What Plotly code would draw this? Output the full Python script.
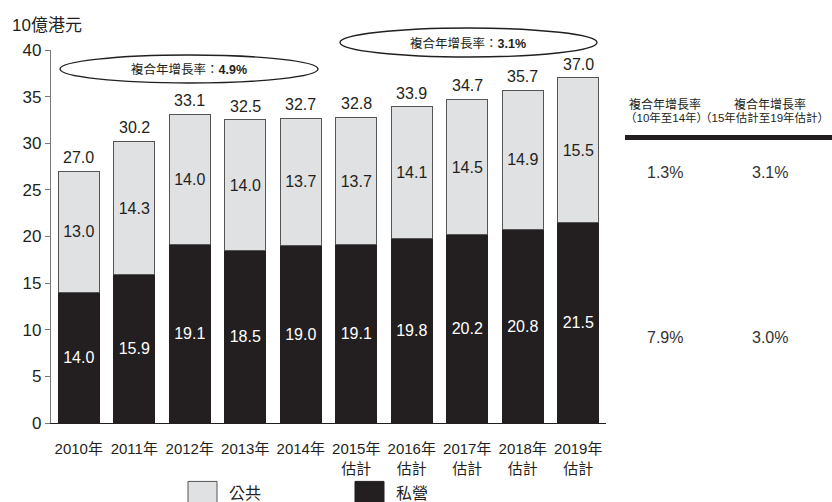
import plotly.graph_objects as go

# ---- data ----
categories = ["2010年", "2011年", "2012年", "2013年", "2014年",
              "2015年<br>估計", "2016年<br>估計", "2017年<br>估計", "2018年<br>估計", "2019年<br>估計"]
private_vals = [14.0, 15.9, 19.1, 18.5, 19.0, 19.1, 19.8, 20.2, 20.8, 21.5]
public_vals = [13.0, 14.3, 14.0, 14.0, 13.7, 13.7, 14.1, 14.5, 14.9, 15.5]
total_vals = [27.0, 30.2, 33.1, 32.5, 32.7, 32.8, 33.9, 34.7, 35.7, 37.0]
y_ticks = [0, 5, 10, 15, 20, 25, 30, 35, 40]
cagr_bubbles = ["4.9%", "3.1%"]
table_head_line1 = ["複合年增長率", "複合年增長率"]
table_head_line2 = ["（10年至14年）", "（15年估計至19年估計）"]
table_row1 = ["1.3%", "3.1%"]
table_row2 = ["7.9%", "3.0%"]
legend_names = ["公共", "私營"]

# ---- style ----
FONT = "Arial, 'Liberation Sans', 'Noto Sans CJK TC', sans-serif"
DARK = "#231f20"
LIGHT = "#e0e1e3"
W_PX, H_PX = 832, 502
L, R, T, B = 51, 606, 50, 423.5
PW, PH = R - L, B - T


def px(x):
    return (x - L) / PW


def py(y):
    return (B - y) / PH


xs = list(range(len(categories)))

fig = go.Figure()
fig.add_trace(go.Bar(
    x=xs, y=private_vals, name=legend_names[1],
    marker=dict(color=DARK, line=dict(color=DARK, width=1)),
    text=[f"{v:.1f}" for v in private_vals], textposition="inside",
    insidetextanchor="middle", textangle=0,
    insidetextfont=dict(color="white", size=16, family=FONT),
    showlegend=False,
))
fig.add_trace(go.Bar(
    x=xs, y=public_vals, name=legend_names[0],
    marker=dict(color=LIGHT, line=dict(color="#555555", width=1)),
    text=[f"{v:.1f}" for v in public_vals], textposition="inside",
    insidetextanchor="middle", textangle=0,
    insidetextfont=dict(color=DARK, size=16, family=FONT),
    showlegend=False,
))

annotations = []
# totals above bars
for x, t in zip(xs, total_vals):
    annotations.append(dict(x=x, y=t, xref="x", yref="y", text=f"{t:.1f}",
                            showarrow=False, yanchor="bottom", yshift=3,
                            font=dict(size=16, color=DARK, family=FONT)))

# y-axis title
annotations.append(dict(x=px(10), y=py(25), xref="paper", yref="paper", text="10億港元",
                        showarrow=False, xanchor="left", yanchor="middle",
                        font=dict(size=17, color=DARK, family=FONT)))

shapes = []
# CAGR ellipses
ell = [((60, 55, 318, 83), (189, 69.5)), ((340, 28, 597, 57), (468, 43))]
for ((x0, y0, x1, y1), (cx, cy)), val in zip(ell, cagr_bubbles):
    shapes.append(dict(type="circle", xref="paper", yref="paper",
                       x0=px(x0), x1=px(x1), y0=py(y1), y1=py(y0),
                       line=dict(color=DARK, width=1.4), fillcolor="rgba(0,0,0,0)"))
    annotations.append(dict(x=px(cx), y=py(cy), xref="paper", yref="paper",
                            text=f"複合年增長率：<b>{val}</b>", showarrow=False,
                            xanchor="center", yanchor="middle",
                            font=dict(size=12.5, color=DARK, family=FONT)))

# right-hand table
col_x = [665, 770]
for cx, h in zip(col_x, table_head_line1):
    annotations.append(dict(x=px(cx), y=py(105), xref="paper", yref="paper", text=h,
                            showarrow=False, xanchor="center", yanchor="middle",
                            font=dict(size=12, color=DARK, family=FONT)))
annotations.append(dict(x=px(666), y=py(118), xref="paper", yref="paper", text=table_head_line2[0],
                        showarrow=False, xanchor="center", yanchor="middle",
                        font=dict(size=11.5, color=DARK, family=FONT)))
annotations.append(dict(x=px(831), y=py(118), xref="paper", yref="paper", text=table_head_line2[1],
                        showarrow=False, xanchor="right", yanchor="middle",
                        font=dict(size=11.5, color=DARK, family=FONT)))
shapes.append(dict(type="line", xref="paper", yref="paper",
                   x0=px(625), x1=px(845), y0=py(137.5), y1=py(137.5),
                   line=dict(color=DARK, width=5)))
for cx, v in zip(col_x, table_row1):
    annotations.append(dict(x=px(cx), y=py(173), xref="paper", yref="paper", text=v,
                            showarrow=False, xanchor="center", yanchor="middle",
                            font=dict(size=16, color="#333333", family=FONT)))
for cx, v in zip(col_x, table_row2):
    annotations.append(dict(x=px(cx), y=py(338), xref="paper", yref="paper", text=v,
                            showarrow=False, xanchor="center", yanchor="middle",
                            font=dict(size=16, color="#333333", family=FONT)))

# custom legend
leg = [(188, LIGHT, "#555555", legend_names[0]), (355, DARK, DARK, legend_names[1])]
for lx, fc, lc, name in leg:
    shapes.append(dict(type="rect", xref="paper", yref="paper",
                       x0=px(lx), x1=px(lx + 29), y0=py(511), y1=py(482),
                       fillcolor=fc, line=dict(color=lc, width=1)))
    annotations.append(dict(x=px(lx + 39), y=py(494), xref="paper", yref="paper",
                            text=name, showarrow=False, xanchor="left", yanchor="middle",
                            font=dict(size=16, color=DARK, family=FONT)))

fig.update_layout(
    barmode="stack", bargap=0.27,
    width=W_PX, height=H_PX,
    margin=dict(l=L, r=W_PX - R, t=T, b=H_PX - B, pad=0),
    plot_bgcolor="white", paper_bgcolor="white",
    font=dict(family=FONT, color=DARK),
    uniformtext=dict(minsize=16, mode="show"),
    annotations=annotations, shapes=shapes,
    xaxis=dict(range=[-0.5, len(xs) - 0.5], tickvals=xs, ticktext=categories,
               showgrid=False, zeroline=False, showline=True, linecolor=DARK, linewidth=1.2,
               ticks="", ticklabelstandoff=12, tickfont=dict(size=15, color=DARK, family=FONT),
               fixedrange=True),
    yaxis=dict(range=[0, 40], tickvals=y_ticks, showgrid=False, zeroline=False,
               showline=True, linecolor="#777777", linewidth=1.2,
               ticks="outside", ticklen=5, tickcolor="#777777", tickwidth=1.2,
               tickfont=dict(size=17, color=DARK, family=FONT), fixedrange=True),
)

fig.write_html("out.html")
